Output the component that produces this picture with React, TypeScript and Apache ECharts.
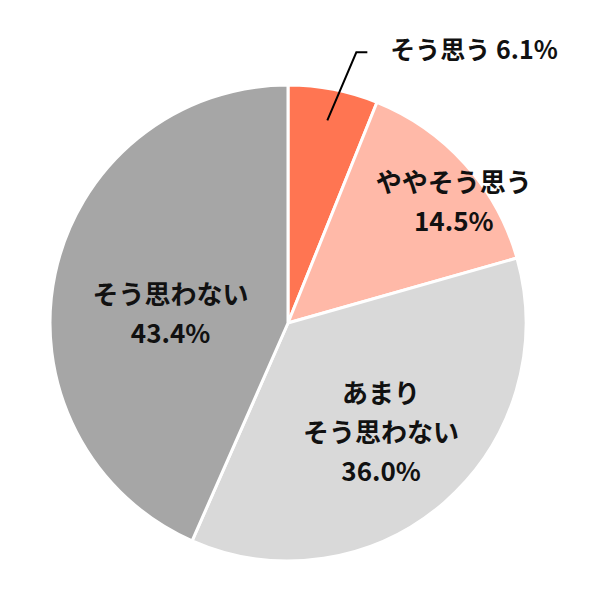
import React, { useEffect, useRef } from "react";
import * as echarts from "echarts";

const categories = ["そう思う", "ややそう思う", "あまり\nそう思わない", "そう思わない"];
const values = [6.1, 14.5, 36.0, 43.4];
const colors = ["#FF7552", "#FFB9A8", "#D9D9D9", "#A6A6A6"];

export default function App() {
  const ref = useRef<HTMLDivElement>(null);
  useEffect(() => {
    if (!ref.current) return;
    const chart = echarts.init(ref.current, null, { renderer: "svg" });
    const offsets: Record<number, [number, number]> = {
      1: [75, -41],
      2: [13, 15],
      3: [2, 14],
    };
    const baseLabel = {
      fontFamily: "Noto Sans CJK JP",
      fontWeight: "bold" as const,
      color: "#111111",
    };
    chart.setOption({
      animation: false,
      backgroundColor: "#ffffff",
      series: [
        {
          type: "pie",
          z: 2,
          center: [288, 323],
          radius: [0, 238],
          startAngle: 90,
          clockwise: true,
          avoidLabelOverlap: false,
          itemStyle: { borderColor: "#ffffff", borderWidth: 3 },
          label: {
            ...baseLabel,
            position: "inside",
            fontSize: 26,
            lineHeight: 39,
            align: "center",
            formatter: (p: any) => `${p.name}\n${p.value.toFixed(1)}%`,
          },
          labelLine: { show: false },
          labelLayout: (params: any) => {
            const o = offsets[params.dataIndex] || [0, 0];
            return { dx: o[0], dy: o[1] };
          },
          data: values.map((v, i) => ({
            value: v,
            name: categories[i],
            itemStyle: { color: colors[i] },
            label: { show: i !== 0 },
          })),
        },
        {
          type: "pie",
          z: 5,
          silent: true,
          center: [288, 323],
          radius: [0, 238],
          startAngle: 90,
          clockwise: true,
          avoidLabelOverlap: false,
          itemStyle: { color: "rgba(0,0,0,0)", borderWidth: 0 },
          label: {
            ...baseLabel,
            position: "outside",
            fontSize: 25,
            align: "left",
            formatter: (p: any) => `${p.name} ${p.value.toFixed(1)}%`,
          },
          labelLine: {
            show: true,
            length: 30,
            length2: 12,
            lineStyle: { color: "#000000", width: 2 },
          },
          labelLayout: (params: any) => {
            if (params.dataIndex !== 0) return {};
            const p0 = params.labelLinePoints ? params.labelLinePoints[0] : [333, 89];
            const start = [p0[0] - 6, p0[1] + 31];
            const mid = [p0[0] + 23, p0[1] - 37];
            const end = [mid[0] + 11, mid[1]];
            return {
              x: end[0] + 23,
              y: end[1] - 4,
              align: "left",
              verticalAlign: "middle",
              labelLinePoints: [start, mid, end],
            };
          },
          data: values.map((v, i) => ({
            value: v,
            name: categories[i],
            label: { show: i === 0 },
            labelLine: { show: i === 0 },
          })),
        },
      ],
    });
    return () => chart.dispose();
  }, []);
  return (
    <div
      ref={ref}
      style={{ position: "fixed", left: 0, top: 0, width: 600, height: 600 }}
    />
  );
}
